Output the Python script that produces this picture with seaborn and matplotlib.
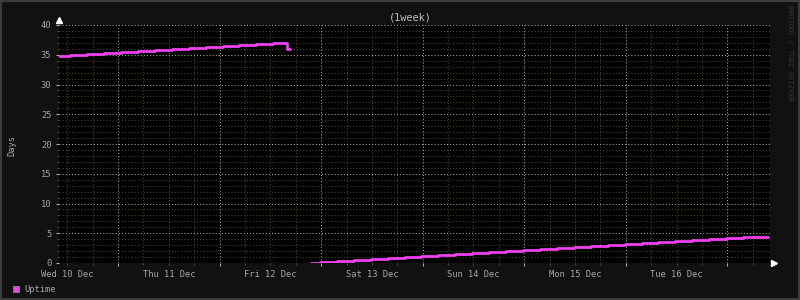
import numpy as np
import pandas as pd
import matplotlib
matplotlib.use("Agg")
import matplotlib.pyplot as plt
import matplotlib.dates as mdates
from matplotlib.patches import Rectangle
import seaborn as sns

# ---------------- data (hours since Wed 10 Dec 00:00, uptime in days) -------------
seg1_hours = [10.1, 12.7, 16.7, 20.7, 24.7, 28.7, 32.7, 36.7, 40.7, 44.7,
              48.7, 52.7, 56.7, 60.7, 63.9, 64.6]
seg1_days = [34.85, 35.02, 35.18, 35.35, 35.52, 35.68, 35.85, 36.02, 36.18, 36.35,
             36.52, 36.68, 36.85, 37.05, 36.0, 36.0]

seg2_hours = [69.6, 71.7, 75.7, 79.7, 83.7, 87.7, 91.7, 95.7, 99.7, 103.7,
              107.7, 111.7, 115.7, 119.7, 123.7, 127.7, 131.7, 135.7, 139.7,
              143.7, 147.7, 151.7, 155.7, 159.7, 163.7, 167.7, 171.7, 176.0, 177.6]
seg2_days = [0.0, 0.12, 0.29, 0.46, 0.62, 0.79, 0.96, 1.12, 1.29, 1.46,
             1.62, 1.79, 1.96, 2.12, 2.29, 2.46, 2.62, 2.79, 2.96,
             3.12, 3.29, 3.46, 3.62, 3.79, 3.96, 4.12, 4.29, 4.45, 4.45]

day_labels = ["Wed 10 Dec", "Thu 11 Dec", "Fri 12 Dec", "Sat 13 Dec",
              "Sun 14 Dec", "Mon 15 Dec", "Tue 16 Dec"]
y_ticks = [0, 5, 10, 15, 20, 25, 30, 35, 40]
series_name = "Uptime"
title = "(1week)"
y_label = "Days"
watermark = "RRDTOOL / TOBI OETIKER"

# ---------------- build frames -------------
base = pd.Timestamp("2025-12-10 00:00")
df1 = pd.DataFrame({"time": base + pd.to_timedelta(seg1_hours, unit="h"), "days": seg1_days})
df2 = pd.DataFrame({"time": base + pd.to_timedelta(seg2_hours, unit="h"), "days": seg2_days})

sns.set_theme(style="dark")
plt.rcParams["font.family"] = ["DejaVu Sans Mono", "DejaVu Sans"]

BG = "#111111"
LINE = "#f040f0"
TXT = "#a8a8a8"
MAJ = "#a4ae98"
MIN = "#4a4a22"

fig = plt.figure(figsize=(8, 3), dpi=100, facecolor=BG)
ax = fig.add_axes([59 / 800, 37 / 300, 711 / 800, 238 / 300])
ax.set_facecolor("#000000")

for d in (df1, df2):
    sns.lineplot(data=d, x="time", y="days", ax=ax, color=LINE, linewidth=2.0,
                 drawstyle="steps-post", estimator=None, legend=False, zorder=5)

t0 = base + pd.Timedelta(hours=10.06)
t1 = t0 + pd.Timedelta(days=7)
ax.set_xlim(t0, t1)
ax.set_ylim(0, 40)

# grids
ax.xaxis.set_major_locator(mdates.DayLocator())
ax.xaxis.set_minor_locator(mdates.HourLocator(byhour=[6, 12, 18]))
ax.xaxis.set_major_formatter(plt.NullFormatter())
ax.set_yticks(y_ticks)
ax.set_yticks([v for v in range(0, 41) if v % 5], minor=True)
ax.set_yticklabels([str(v) for v in y_ticks])

ax.grid(which="minor", color=MIN, linestyle=(0, (1, 2)), linewidth=0.75)
ax.grid(which="major", color=MAJ, linestyle=(0, (1, 2)), linewidth=0.75)
ax.set_axisbelow(True)

for s in ax.spines.values():
    s.set_visible(False)

ax.tick_params(axis="both", which="major", colors=MAJ, length=2.5, width=0.8,
               labelcolor=TXT, labelsize=6.3, pad=3, bottom=True, left=True)
ax.tick_params(axis="both", which="minor", colors=MIN, length=1.5, width=0.8,
               bottom=True, left=True)
ax.set_xlabel("")
ax.set_ylabel("")

# day labels at noon
for i, lab in enumerate(day_labels):
    tx = base + pd.Timedelta(days=i, hours=12)
    ax.text(tx, -0.03, lab, transform=ax.get_xaxis_transform(), ha="center", va="top",
            color=TXT, fontsize=6.3)

# axis arrows
ax.plot([0], [1.02], marker="^", color="white", markersize=4, transform=ax.transAxes,
        clip_on=False)
ax.plot([1.005], [0], marker=">", color="white", markersize=4, transform=ax.transAxes,
        clip_on=False)

# texts
fig.text(410 / 800, 1 - 17 / 300, title, ha="center", va="center", color="#c0c0c0", fontsize=7.4)
fig.text(12 / 800, 1 - 145 / 300, y_label, rotation=90, ha="center", va="center",
         color=TXT, fontsize=6.3)
fig.text(790 / 800, 1 - 5 / 300, watermark, rotation=270, ha="center", va="top",
         color="#383838", fontsize=5.2)

# legend
fig.patches.append(Rectangle((13 / 800, 1 - 292 / 300), 6 / 800, 6 / 300,
                             transform=fig.transFigure, facecolor=LINE,
                             edgecolor="#808080", linewidth=0.6))
fig.text(24 / 800, 1 - 289 / 300, series_name, ha="left", va="center", color=TXT, fontsize=6.3)

# outer frame
fig.patches.append(Rectangle((0, 0), 1, 1, transform=fig.transFigure, fill=False,
                             edgecolor="#3c3c3c", linewidth=3))

fig.savefig("out.png", dpi=100, facecolor=BG)
